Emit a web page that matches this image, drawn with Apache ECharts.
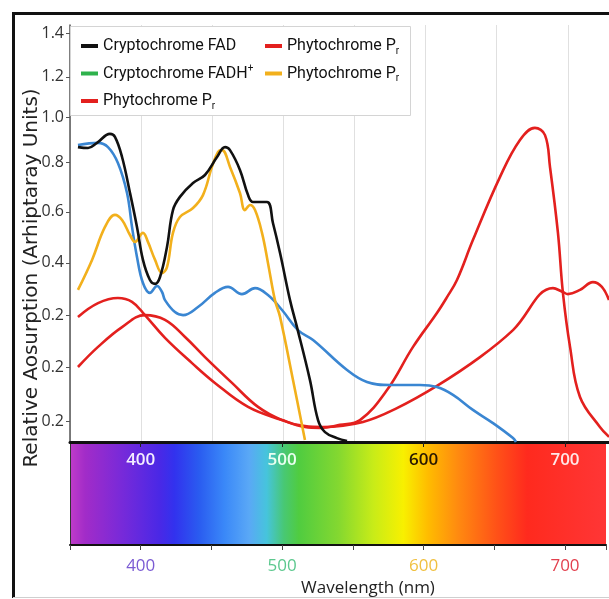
<!DOCTYPE html>
<html>
<head>
<meta charset="utf-8">
<script src="https://cdn.jsdelivr.net/npm/echarts@6/dist/echarts.min.js"></script>
<style>
  html, body { margin: 0; padding: 0; background: #ffffff; }
  #chart { width: 609px; height: 599px; }
</style>
</head>
<body>
<div id="chart"></div>
<script>
// Wavelength labels shown on the spectrum strip (nm)
const wavelengthLabels = [400, 500, 600, 700];
const bottomLabelColors = { 400: '#7b5bd3', 500: '#5cc88e', 600: '#f0c040', 700: '#e2404e' };
const stripLabelColors = { 400: '#f4eeff', 500: '#eafff0', 600: '#2a1800', 700: '#ffe8e8' };

// Relative absorption axis (arbitrary units): tick positions and printed tick text
const yTickValues = [0.070, 0.250, 0.423, 0.597, 0.767, 0.933, 1.083, 1.217, 1.363];
const yTickLabels = ['0.2', '0.2', '0.2', '0.4', '0.6', '0.8', '1.0', '1.2', '1.4'];

// Absorption spectra as [wavelength nm, relative absorption]
const cryptochromeFAD = [
  [355.6, 0.983], [362.7, 0.980], [369.0, 0.997], [378.1, 1.027], [381.6, 1.017],
  [386.6, 0.950], [392.2, 0.830], [397.1, 0.717], [401.3, 0.607], [406.2, 0.540],
  [409.8, 0.527], [413.3, 0.550], [418.2, 0.650], [422.4, 0.773], [427.3, 0.817],
  [436.5, 0.863], [444.9, 0.890], [453.4, 0.950], [459.0, 0.983], [462.5, 0.973],
  [469.5, 0.907], [475.2, 0.823], [478.7, 0.800], [488.5, 0.800], [492.7, 0.730],
  [497.7, 0.630], [504.7, 0.473], [509.6, 0.383], [518.7, 0.207], [524.4, 0.073],
  [529.3, 0.033], [537.7, 0.013], [544.8, 0.003]
];

const cryptochromeFADH = [
  [355.6, 0.990], [369.7, 0.997], [376.7, 0.983], [383.7, 0.930], [390.1, 0.830],
  [393.6, 0.717], [397.1, 0.617], [401.3, 0.530], [406.2, 0.497], [411.2, 0.520],
  [414.7, 0.500], [416.8, 0.473], [423.8, 0.433], [429.5, 0.423], [440.0, 0.450],
  [451.9, 0.497], [461.1, 0.517], [470.9, 0.493], [480.1, 0.513], [489.2, 0.490],
  [499.1, 0.440], [510.3, 0.373], [520.9, 0.340], [544.8, 0.240], [558.8, 0.200],
  [575.0, 0.190], [596.1, 0.190], [608.0, 0.183], [619.3, 0.157], [633.3, 0.107],
  [647.4, 0.063], [661.5, 0.013], [663.6, 0.000]
];

const phytochromeBlueBand = [
  [355.6, 0.507], [365.5, 0.607], [374.6, 0.717], [381.6, 0.757], [386.6, 0.740],
  [392.2, 0.690], [395.7, 0.667], [401.3, 0.697], [404.8, 0.667], [409.8, 0.607],
  [414.7, 0.563], [418.2, 0.583], [422.4, 0.697], [427.3, 0.750], [436.5, 0.780],
  [443.5, 0.823], [449.8, 0.917], [454.1, 0.967], [456.9, 0.973], [462.5, 0.917],
  [469.5, 0.830], [473.0, 0.773], [476.6, 0.790], [480.1, 0.773], [485.0, 0.697],
  [489.2, 0.597], [494.1, 0.473], [497.7, 0.417], [506.8, 0.207], [515.2, 0.007]
];

const phytochromePfr = [
  [355.6, 0.417], [369.7, 0.463], [383.7, 0.480], [393.6, 0.467], [402.7, 0.423],
  [416.8, 0.347], [435.8, 0.263], [451.9, 0.197], [475.2, 0.117], [499.1, 0.073],
  [515.2, 0.050], [525.8, 0.047], [539.8, 0.057], [553.9, 0.073], [572.9, 0.173],
  [591.2, 0.317], [608.0, 0.430], [615.1, 0.483], [622.1, 0.540], [633.3, 0.673],
  [652.3, 0.883], [666.4, 1.007], [676.9, 1.047], [684.0, 1.023], [687.5, 0.917],
  [693.1, 0.697], [696.6, 0.497], [701.6, 0.317], [708.6, 0.150], [722.6, 0.050],
  [729.0, 0.017]
];

const phytochromePr = [
  [355.6, 0.250], [369.7, 0.317], [386.6, 0.383], [402.7, 0.423], [416.8, 0.407],
  [430.9, 0.350], [444.9, 0.283], [463.9, 0.197], [482.2, 0.117], [499.1, 0.073],
  [515.2, 0.053], [527.9, 0.050], [556.0, 0.067], [579.9, 0.113], [608.0, 0.187],
  [638.3, 0.283], [661.5, 0.373], [689.6, 0.513], [696.6, 0.500], [700.1, 0.493],
  [708.6, 0.507], [717.7, 0.533], [724.0, 0.517], [729.0, 0.473]
];

const chart = echarts.init(document.getElementById('chart'), null, { renderer: 'canvas' });

const legendFont = 'Roboto, "Liberation Sans", sans-serif';
const axisFont = '"Open Sans", "Liberation Sans", sans-serif';
const titleFont = '"DejaVu Sans", "Open Sans", sans-serif';

const legendRich = {
  sup: { fontSize: 10, fontFamily: legendFont, color: '#111', verticalAlign: 'top', lineHeight: 20 },
  sub: { fontSize: 10, fontFamily: legendFont, color: '#111', verticalAlign: 'bottom', lineHeight: 20 }
};
function legendText(name) {
  if (name === 'Cryptochrome FADH+') return 'Cryptochrome FADH{sup|+}';
  if (name.indexOf('Phytochrome') === 0) return 'Phytochrome P{sub|r}';
  return name;
}
const legendCommon = {
  orient: 'vertical',
  top: 31,
  icon: 'rect',
  itemWidth: 17,
  itemHeight: 4,
  itemGap: 7.5,
  z: 10,
  selectedMode: false,
  formatter: legendText,
  textStyle: { fontFamily: legendFont, fontSize: 16, color: '#111', lineHeight: 20, rich: legendRich }
};

function nearestTickLabel(v) {
  let best = 0;
  for (let i = 1; i < yTickValues.length; i++) {
    if (Math.abs(yTickValues[i] - v) < Math.abs(yTickValues[best] - v)) best = i;
  }
  return yTickLabels[best];
}

function lineSeries(name, data, color, z) {
  return {
    name: name, type: 'line', data: data, xAxisIndex: 0, yAxisIndex: 0,
    showSymbol: false, smooth: 0.4, z: z,
    lineStyle: { color: color, width: 2.6 },
    itemStyle: { color: color }
  };
}

const spectrum = new echarts.graphic.LinearGradient(0, 0, 1, 0, [
  { offset: 0.000, color: '#c03cc8' },
  { offset: 0.028, color: '#a22cc8' },
  { offset: 0.093, color: '#7a2ad8' },
  { offset: 0.167, color: '#4a28e6' },
  { offset: 0.195, color: '#3232ee' },
  { offset: 0.241, color: '#2a5cf0' },
  { offset: 0.288, color: '#3a88f8' },
  { offset: 0.334, color: '#5aa8f6' },
  { offset: 0.367, color: '#46c4dc' },
  { offset: 0.399, color: '#48c874' },
  { offset: 0.427, color: '#50cc40' },
  { offset: 0.501, color: '#84d830' },
  { offset: 0.566, color: '#c8ec18' },
  { offset: 0.622, color: '#f8f000' },
  { offset: 0.668, color: '#ffbc00' },
  { offset: 0.724, color: '#ff8a10' },
  { offset: 0.798, color: '#ff5018' },
  { offset: 0.853, color: '#ff2a1e' },
  { offset: 1.000, color: '#ff3636' }
]);

const option = {
  backgroundColor: '#ffffff',
  animation: false,
  grid: [
    { left: 70, right: 0, top: 25, bottom: 157 },
    { left: 70, right: 0, top: 442, bottom: 54, show: true, backgroundColor: spectrum, borderWidth: 0 }
  ],
  xAxis: [
    {
      gridIndex: 0, type: 'value', min: 350, max: 729, interval: 50,
      axisLine: { show: true, lineStyle: { color: '#111', width: 3 } },
      axisTick: { show: false },
      axisLabel: { show: false },
      splitLine: { show: true, lineStyle: { color: '#e0e0e0', width: 1 } }
    },
    {
      gridIndex: 1, type: 'value', position: 'bottom', min: 350, max: 729, interval: 50,
      axisLine: { show: true, lineStyle: { color: '#111', width: 2 } },
      axisTick: { show: true, length: 5, lineStyle: { color: '#444', width: 1 } },
      axisLabel: {
        margin: 13, fontSize: 17, fontFamily: axisFont,
        formatter: function (v) { return wavelengthLabels.indexOf(v) >= 0 ? String(v) : ''; },
        color: function (v) { return bottomLabelColors[v] || '#333'; }
      },
      splitLine: { show: false }
    },
    {
      gridIndex: 1, type: 'value', position: 'top', min: 350, max: 729, interval: 50,
      axisLine: { show: false },
      axisTick: { show: true, inside: true, length: 5, customValues: wavelengthLabels, lineStyle: { color: '#222', width: 1 } },
      axisLabel: {
        inside: true, margin: 10, fontSize: 17, fontWeight: 600, fontFamily: axisFont,
        customValues: wavelengthLabels,
        formatter: function (v) { return String(v); },
        color: function (v) { return stripLabelColors[v] || '#fff'; }
      },
      splitLine: { show: false }
    }
  ],
  yAxis: [
    {
      gridIndex: 0, type: 'value', min: 0, max: 1.39,
      axisLine: { show: true, lineStyle: { color: '#555', width: 1.5 } },
      axisTick: { show: true, length: 4, customValues: yTickValues, lineStyle: { color: '#555' } },
      axisLabel: {
        customValues: yTickValues, margin: 6, fontSize: 16, fontFamily: axisFont, color: '#333',
        formatter: nearestTickLabel
      },
      splitLine: { show: false }
    },
    {
      gridIndex: 1, type: 'value', min: 0, max: 1,
      axisLine: { show: true, lineStyle: { color: '#333', width: 1 } },
      axisTick: { show: false }, axisLabel: { show: false }, splitLine: { show: false }
    }
  ],
  legend: [
    Object.assign({}, legendCommon, {
      left: 76,
      data: [
        { name: 'Cryptochrome FAD' },
        { name: 'Cryptochrome FADH+', itemStyle: { color: '#2fb24c' } },
        { name: 'Phytochrome Pr' }
      ]
    }),
    Object.assign({}, legendCommon, {
      left: 260,
      data: [
        { name: 'Phytochrome Pfr' },
        { name: 'Phytochrome Pr blue band' }
      ]
    })
  ],
  graphic: [
    {
      type: 'rect', z: 5, silent: true,
      shape: { x: 70.5, y: 26.5, width: 340, height: 89 },
      style: { fill: '#ffffff', stroke: '#d4d4d4', lineWidth: 1 }
    },
    {
      type: 'text', z: 5, silent: true,
      x: 32, y: 278, rotation: Math.PI / 2,
      style: {
        text: 'Relative Aosurption (Arhiptaray Units)',
        fontFamily: titleFont, fontSize: 20, fill: '#222',
        align: 'center', verticalAlign: 'middle'
      }
    },
    {
      type: 'text', z: 5, silent: true,
      x: 368, y: 588,
      style: {
        text: 'Wavelength (nm)',
        fontFamily: axisFont, fontSize: 17, fill: '#222',
        align: 'center', verticalAlign: 'middle'
      }
    },
    {
      type: 'polyline', z: 6, silent: true,
      shape: { points: [[13.5, 598], [13.5, 13.5], [612, 13.5]] },
      style: { stroke: '#111', lineWidth: 3, fill: null }
    },
    {
      type: 'line', z: 6, silent: true,
      shape: { x1: 13, y1: 597.5, x2: 609, y2: 597.5 },
      style: { stroke: '#cfcfcf', lineWidth: 1 }
    }
  ],
  series: [
    lineSeries('Phytochrome Pr', phytochromePr, '#e3201e', 3),
    lineSeries('Phytochrome Pfr', phytochromePfr, '#e3201e', 3),
    lineSeries('Cryptochrome FADH+', cryptochromeFADH, '#3a86d2', 4),
    lineSeries('Phytochrome Pr blue band', phytochromeBlueBand, '#f2b01c', 5),
    lineSeries('Cryptochrome FAD', cryptochromeFAD, '#111111', 6)
  ]
};

chart.setOption(option);
</script>
</body>
</html>
